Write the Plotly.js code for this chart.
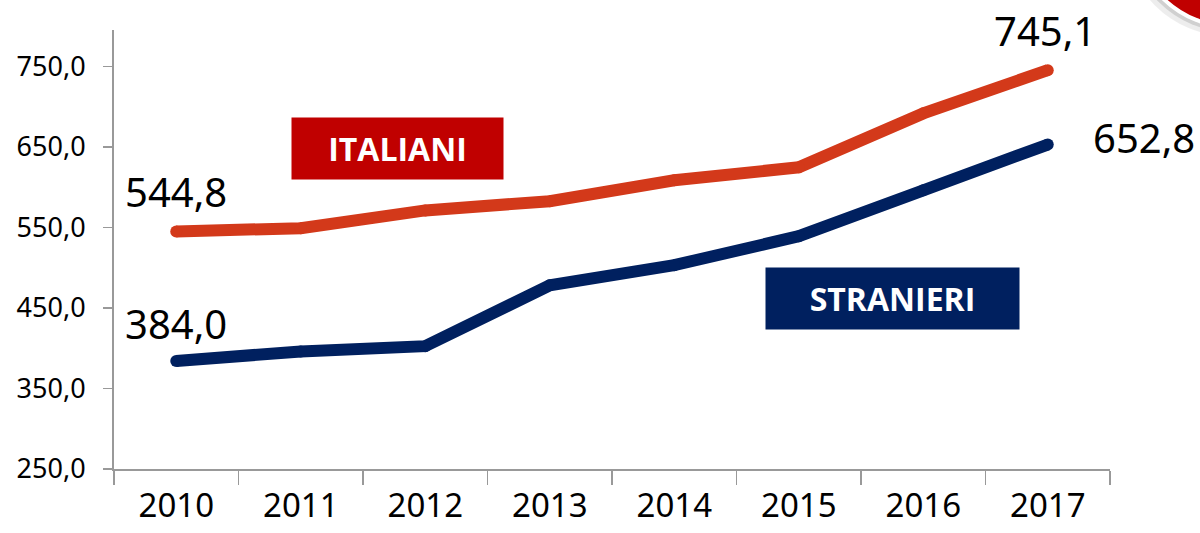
<!DOCTYPE html>
<html>
<head>
<meta charset="utf-8">
<script src="https://cdn.plot.ly/plotly-3.0.1.min.js"></script>
<style>html,body{margin:0;padding:0;background:#fff;}#chart{width:1200px;height:533px;}</style>
</head>
<body>
<div id="chart"></div>
<script>
const years = ['2010','2011','2012','2013','2014','2015','2016','2017'];
const italiani = [544.8, 549.0, 571.0, 582.5, 608.5, 624.5, 691.5, 745.1];
const stranieri = [384.0, 396.0, 402.5, 478.0, 503.0, 539.0, 596.0, 652.8];
const yTicks = [250, 350, 450, 550, 650, 750];

const cRed = '#D3391A';
const cNavy = '#00205F';
const font = '"Noto Sans", "DejaVu Sans", Arial, sans-serif';

const traces = [
  {x: years, y: italiani, type: 'scatter', mode: 'lines+markers', name: 'ITALIANI',
   line: {color: cRed, width: 12}, marker: {color: cRed, size: 12, line: {width: 0}}, hoverinfo: 'skip'},
  {x: years, y: stranieri, type: 'scatter', mode: 'lines+markers', name: 'STRANIERI',
   line: {color: cNavy, width: 12}, marker: {color: cNavy, size: 12, line: {width: 0}}, hoverinfo: 'skip'}
];

function fmt(v){ return v.toFixed(1).replace('.', ','); }

// pixel -> paper helpers (plot area: x 114..1110, y 30..469)
function px(p){ return (p - 114) / 996; }
function py(p){ return (469 - p) / 439; }

const ann = (x, y, text, extra) => Object.assign({
  x: px(x), y: py(y), xref: 'paper', yref: 'paper', xanchor: 'center', yanchor: 'middle',
  text: text, showarrow: false, font: {size: 40, family: font, color: '#000'}
}, extra || {});

const layout = {
  width: 1200, height: 533,
  margin: {l: 114, r: 90, t: 30, b: 64},
  paper_bgcolor: '#fff', plot_bgcolor: '#fff',
  showlegend: false,
  separators: ',.',
  font: {family: font, color: '#000'},
  xaxis: {
    type: 'category', range: [-0.5, 7.5], showgrid: false, zeroline: false,
    showline: true, linecolor: '#999', linewidth: 2,
    ticks: 'outside', tickson: 'boundaries', ticklen: 14, tickcolor: '#999', tickwidth: 1.5,
    tickfont: {size: 33, family: font, color: '#000'}, ticklabelstandoff: 6
  },
  yaxis: {
    range: [250, 795], showgrid: false, zeroline: false,
    showline: true, linecolor: '#999', linewidth: 2,
    ticks: 'outside', ticklen: 9, tickcolor: '#999', tickwidth: 1.5,
    tickvals: yTicks, ticktext: yTicks.map(fmt),
    tickfont: {size: 27, family: font, color: '#000'}, ticklabelstandoff: 12
  },
  annotations: [
    ann(176, 192, fmt(italiani[0])),
    ann(176, 323, fmt(stranieri[0])),
    ann(1045, 30, fmt(italiani[7])),
    ann(1144, 137, fmt(stranieri[7])),
    ann(397.5, 148.5, '<b>ITALIANI</b>', {width: 211, height: 61, bgcolor: '#C00000', borderpad: 0,
      font: {size: 32, family: '"Open Sans", Arial, sans-serif', color: '#fff'}}),
    ann(892.5, 298.5, '<b>STRANIERI</b>', {width: 253, height: 61, bgcolor: cNavy, borderpad: 0,
      font: {size: 32, family: '"Open Sans", Arial, sans-serif', color: '#fff'}})
  ],
  shapes: [
    {type: 'circle', xref: 'paper', yref: 'paper', layer: 'above',
     x0: px(1133 - 8), x1: px(1333 - 2), y0: py(27 + 9), y1: py(-173 + 2),
     fillcolor: 'rgba(0,0,0,0.07)', line: {width: 0}},
    {type: 'circle', xref: 'paper', yref: 'paper', layer: 'above',
     x0: px(1133 - 4), x1: px(1333 - 1), y0: py(27 + 5), y1: py(-173 + 1),
     fillcolor: 'rgba(0,0,0,0.12)', line: {width: 0}},
    {type: 'circle', xref: 'paper', yref: 'paper', layer: 'above',
     x0: px(1133), x1: px(1333), y0: py(27), y1: py(-173),
     fillcolor: '#C00000', line: {color: '#fff', width: 4}}
  ]
};

Plotly.newPlot('chart', traces, layout, {staticPlot: true, displayModeBar: false});
</script>
</body>
</html>
